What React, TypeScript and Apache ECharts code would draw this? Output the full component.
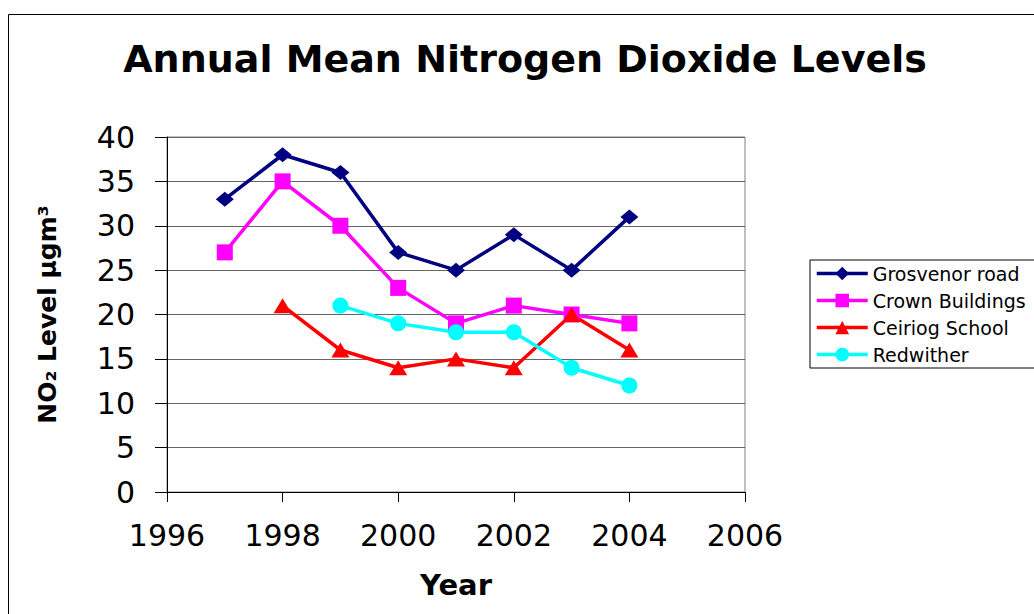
import { useEffect, useRef } from "react";
import * as echarts from "echarts";

const years = [1997, 1998, 1999, 2000, 2001, 2002, 2003, 2004];
const grosvenorRoad = [33, 38, 36, 27, 25, 29, 25, 31];
const crownBuildings = [27, 35, 30, 23, 19, 21, 20, 19];
const ceiriogSchool = [null, 21, 16, 14, 15, 14, 20, 16];
const redwither = [null, null, 21, 19, 18, 18, 14, 12];
const seriesNames = ["Grosvenor road", "Crown Buildings", "Ceiriog School", "Redwither"];
const xRange = [1996, 2006];
const xStep = 2;
const yRange = [0, 40];
const yStep = 5;
const titleText = "Annual Mean Nitrogen Dioxide Levels";
const xName = "Year";
const yName = "NO₂ Level µgm³";

const FONT = "DejaVu Sans";

function pairs(vals: (number | null)[]) {
  return years
    .map((y, i) => [y, vals[i]])
    .filter((p) => p[1] !== null && p[1] !== undefined);
}

export default function App() {
  const ref = useRef<HTMLDivElement>(null);
  useEffect(() => {
    if (!ref.current) return;
    const chart = echarts.init(ref.current, undefined, { renderer: "svg" });
    const styles = [
      { color: "#000080", symbol: "diamond", symbolSize: [18, 15] },
      { color: "#FF00FF", symbol: "rect", symbolSize: 16 },
      { color: "#FF0000", symbol: "triangle", symbolSize: [18, 15] },
      { color: "#00FFFF", symbol: "circle", symbolSize: 16 },
    ];
    const values = [grosvenorRoad, crownBuildings, ceiriogSchool, redwither];
    chart.setOption({
      animation: false,
      backgroundColor: "#fff",
      title: {
        text: titleText,
        left: 520,
        top: 35,
        textAlign: "center",
        textStyle: { fontFamily: FONT, fontWeight: "bold", fontSize: 38, color: "#000" },
      },
      graphic: [
        {
          type: "rect",
          silent: true,
          z: -10,
          shape: { x: 8.5, y: 14.5, width: 1100, height: 700 },
          style: { fill: "none", stroke: "#000", lineWidth: 1 },
        },
      ],
      legend: {
        orient: "vertical",
        left: 810,
        top: 260,
        padding: [4, 10, 4, 5],
        itemWidth: 51,
        itemHeight: 17,
        itemGap: 8,
        borderColor: "#000",
        borderWidth: 1,
        backgroundColor: "#fff",
        lineStyle: { width: 3.5 },
        textStyle: { fontFamily: FONT, fontSize: 19, color: "#000" },
        data: seriesNames,
      },
      grid: {
        left: 167,
        right: 289,
        top: 137,
        bottom: 122,
        show: true,
        borderColor: "#808080",
        borderWidth: 1,
        backgroundColor: "#fff",
      },
      xAxis: {
        type: "value",
        min: xRange[0],
        max: xRange[1],
        interval: xStep,
        name: xName,
        nameLocation: "middle",
        nameGap: 78,
        nameTextStyle: { fontFamily: FONT, fontWeight: "bold", fontSize: 29, color: "#000" },
        axisLine: { show: true, lineStyle: { color: "#000", width: 1 } },
        axisTick: { show: true, inside: false, length: 10, lineStyle: { color: "#000" } },
        axisLabel: {
          margin: 28,
          fontFamily: FONT,
          fontSize: 30,
          color: "#000",
          formatter: (v: number) => String(v),
        },
        splitLine: { show: false },
      },
      yAxis: {
        type: "value",
        min: yRange[0],
        max: yRange[1],
        interval: yStep,
        name: yName,
        nameLocation: "middle",
        nameRotate: 90,
        nameGap: 107,
        nameTextStyle: { fontFamily: FONT, fontWeight: "bold", fontSize: 25, color: "#000" },
        axisLine: { show: true, lineStyle: { color: "#000", width: 1 } },
        axisTick: { show: true, inside: false, length: 12, lineStyle: { color: "#000" } },
        axisLabel: { margin: 32, fontFamily: FONT, fontSize: 30, color: "#000" },
        splitLine: { show: true, lineStyle: { color: "#666", width: 1 } },
      },
      series: seriesNames.map((name, i) => ({
        name,
        type: "line",
        data: pairs(values[i]),
        symbol: styles[i].symbol,
        symbolSize: styles[i].symbolSize,
        showAllSymbol: true,
        lineStyle: { color: styles[i].color, width: 3.5 },
        itemStyle: { color: styles[i].color },
        emphasis: { disabled: true },
      })),
    });
    return () => chart.dispose();
  }, []);
  return (
    <div
      ref={ref}
      style={{ position: "absolute", left: 0, top: 0, width: 1034, height: 614 }}
    />
  );
}
